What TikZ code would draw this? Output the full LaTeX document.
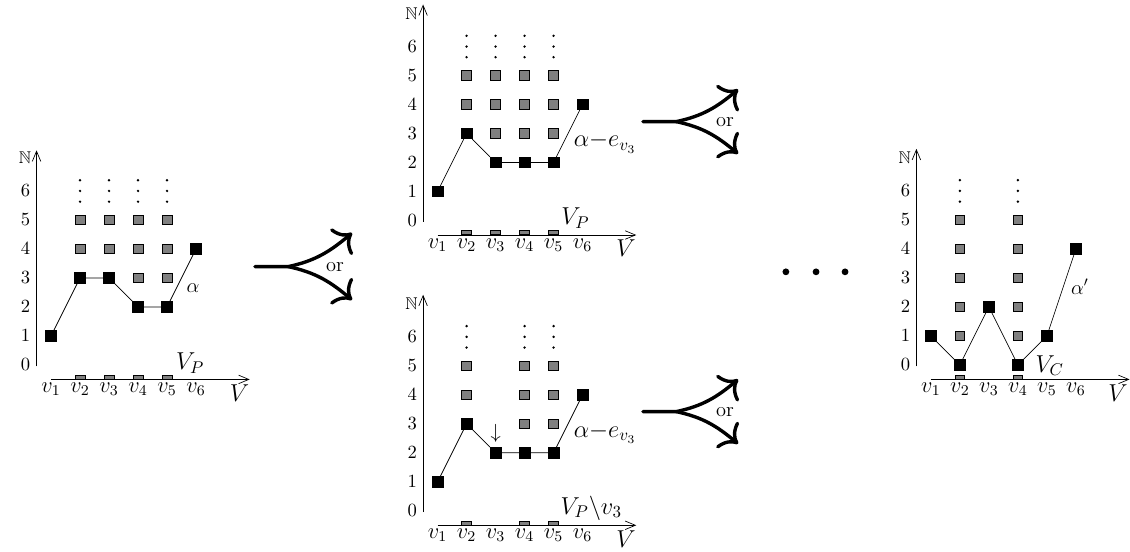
\documentclass[tikz,border=0pt]{standalone}
\usepackage{amsmath,amssymb}
\usetikzlibrary{arrows.meta}
\tikzset{
  blk/.style={draw,fill=black,minimum size=0.22cm,inner sep=0pt},
  gry/.style={draw,fill=gray,minimum size=0.2cm,inner sep=0pt},
  vpbar/.style={draw,fill=gray,minimum width=0.2cm,minimum height=2.3pt,inner sep=0pt,anchor=south},
  axis/.style={-{Straight Barb[length=6pt,width=5pt]}},
  lvl/.style={left,inner sep=3.5pt,font=\fontsize{11}{13}\selectfont},
  vlab/.style={font=\large,scale=1.1,inner sep=0pt},
  setlab/.style={font=\Large,inner sep=0pt},
  lab/.style={font=\large,inner sep=1pt},
  orarr/.style={line width=2pt,line cap=round,-{To[length=9pt,width=20pt]}},
}
\begin{document}
\begin{tikzpicture}[x=0.6cm,y=0.6cm]
\useasboundingbox (0,0) rectangle (38.966,19.034);
%% alpha
\begin{scope}[shift={(1.76,6.45)}]
\coordinate (Lo) at (-0.5,-0.05); \coordinate (Ly) at (-0.5,7.4);
\coordinate (Lx0) at (0,-0.5); \coordinate (Lx) at (6.85,-0.5);
\draw[axis] (Lo)--(Ly);
\draw[axis] (Lx0)--(Lx);
\node[left,inner sep=3pt] (LN) at (-0.5,7.15) {$\mathbb{N}$};
\foreach \k in {0,...,6} \node[lvl] (Ll\k) at (-0.5,\k) {$\k$};
\foreach \i in {1,...,6} \node[vlab] (Lv\i) at (\i-1,-0.84) {$v_{\i}$};
\node[setlab] (LV) at (6.5,-0.97) {$V$};
\node[setlab] (LVP) at (4.8,0.07) {$V_P$};
\foreach \i/\j in {1/4,1/5,2/4,2/5,3/3,3/4,3/5,4/3,4/4,4/5} \node[gry] (Lg\i\j) at (\i,\j) {};
\foreach \i in {1,...,4} {
  \node[vpbar] (Lb\i) at (\i,-0.5) {};
  \foreach \d in {5.63,6,6.37} \fill (\i,\d) circle (0.8pt);
}
\node[blk] (La1) at (0,1) {};
\node[blk] (La2) at (1,3) {};
\node[blk] (La3) at (2,3) {};
\node[blk] (La4) at (3,2) {};
\node[blk] (La5) at (4,2) {};
\node[blk] (La6) at (5,4) {};
\draw (La1)--(La2)--(La3)--(La4)--(La5)--(La6);
\node[lab] (Lal) at (4.9,2.66) {$\alpha$};
\end{scope}
%% alpha - e_v3, first case
\begin{scope}[shift={(15.09,11.43)}]
\coordinate (To) at (-0.5,-0.05); \coordinate (Ty) at (-0.5,7.45);
\coordinate (Tx0) at (0,-0.5); \coordinate (Tx) at (6.85,-0.5);
\draw[axis] (To)--(Ty);
\draw[axis] (Tx0)--(Tx);
\node[left,inner sep=3pt] (TN) at (-0.5,7.15) {$\mathbb{N}$};
\foreach \k in {0,...,6} \node[lvl] (Tl\k) at (-0.5,\k) {$\k$};
\foreach \i in {1,...,6} \node[vlab] (Tv\i) at (\i-1,-0.84) {$v_{\i}$};
\node[setlab] (TV) at (6.5,-0.97) {$V$};
\node[setlab] (TVP) at (4.75,0.09) {$V_P$};
\foreach \i/\j in {1/4,1/5,2/3,2/4,2/5,3/3,3/4,3/5,4/3,4/4,4/5} \node[gry] (Tg\i\j) at (\i,\j) {};
\foreach \i in {1,...,4} {
  \node[vpbar] (Tb\i) at (\i,-0.5) {};
  \foreach \d in {5.63,6,6.37} \fill (\i,\d) circle (0.8pt);
}
\node[blk] (Ta1) at (0,1) {};
\node[blk] (Ta2) at (1,3) {};
\node[blk] (Ta3) at (2,2) {};
\node[blk] (Ta4) at (3,2) {};
\node[blk] (Ta5) at (4,2) {};
\node[blk] (Ta6) at (5,4) {};
\draw (Ta1)--(Ta2)--(Ta3)--(Ta4)--(Ta5)--(Ta6);
\node[setlab] (Tal) at (5.77,2.68) {$\alpha{-}e_{v_3}$};
\end{scope}
%% alpha - e_v3, v3 dropped
\begin{scope}[shift={(15.09,1.42)}]
\coordinate (Bo) at (-0.5,-0.05); \coordinate (By) at (-0.5,7.45);
\coordinate (Bx0) at (0,-0.5); \coordinate (Bx) at (6.85,-0.5);
\draw[axis] (Bo)--(By);
\draw[axis] (Bx0)--(Bx);
\node[left,inner sep=3pt] (BN) at (-0.5,7.15) {$\mathbb{N}$};
\foreach \k in {0,...,6} \node[lvl] (Bl\k) at (-0.5,\k) {$\k$};
\foreach \i in {1,...,6} \node[vlab] (Bv\i) at (\i-1,-0.84) {$v_{\i}$};
\node[setlab] (BV) at (6.5,-0.97) {$V$};
\node[setlab] (BVP) at (5.3,0.09) {$V_P\backslash v_3$};
\foreach \i/\j in {1/4,1/5,3/3,3/4,3/5,4/3,4/4,4/5} \node[gry] (Bg\i\j) at (\i,\j) {};
\foreach \i in {1,3,4} {
  \node[vpbar] (Bb\i) at (\i,-0.5) {};
  \foreach \d in {5.63,6,6.37} \fill (\i,\d) circle (0.8pt);
}
\node[blk] (Ba1) at (0,1) {};
\node[blk] (Ba2) at (1,3) {};
\node[blk] (Ba3) at (2,2) {};
\node[blk] (Ba4) at (3,2) {};
\node[blk] (Ba5) at (4,2) {};
\node[blk] (Ba6) at (5,4) {};
\draw (Ba1)--(Ba2)--(Ba3)--(Ba4)--(Ba5)--(Ba6);
\node[lab] (Bdn) at (2,2.68) {$\downarrow$};
\node[setlab] (Bal) at (5.77,2.68) {$\alpha{-}e_{v_3}$};
\end{scope}
%% alpha'
\begin{scope}[shift={(32.1,6.45)}]
\coordinate (Ro) at (-0.5,-0.05); \coordinate (Ry) at (-0.5,7.45);
\coordinate (Rx0) at (0,-0.5); \coordinate (Rx) at (6.85,-0.5);
\draw[axis] (Ro)--(Ry);
\draw[axis] (Rx0)--(Rx);
\node[left,inner sep=3pt] (RN) at (-0.5,7.15) {$\mathbb{N}$};
\foreach \k in {0,...,6} \node[lvl] (Rl\k) at (-0.5,\k) {$\k$};
\foreach \i in {1,...,6} \node[vlab] (Rv\i) at (\i-1,-0.84) {$v_{\i}$};
\node[setlab] (RV) at (6.45,-0.97) {$V$};
\node[setlab] (RVC) at (4.1,-0.02) {$V_C$};
\foreach \i in {1,3} {
  \foreach \j in {1,...,5} \node[gry] (Rg\i\j) at (\i,\j) {};
  \node[vpbar] (Rb\i) at (\i,-0.5) {};
  \foreach \d in {5.63,6,6.37} \fill (\i,\d) circle (0.8pt);
}
\node[blk] (Ra1) at (0,1) {};
\node[blk] (Ra2) at (1,0) {};
\node[blk] (Ra3) at (2,2) {};
\node[blk] (Ra4) at (3,0) {};
\node[blk] (Ra5) at (4,1) {};
\node[blk] (Ra6) at (5,4) {};
\draw (Ra1)--(Ra2)--(Ra3)--(Ra4)--(Ra5)--(Ra6);
\node[lab] (Ral) at (5.14,2.7) {$\alpha'$};
\end{scope}
%% or-arrows
\coordinate (S1) at (8.79,9.84); \coordinate (J1) at (9.94,9.84);
\coordinate (U1) at (12.14,11.0); \coordinate (D1) at (12.14,8.69);
\draw[orarr] (S1)--(J1) to[out=12,in=-140] (U1);
\draw[orarr] (J1) to[out=-12,in=140] (D1);
\node[lab] (or1) at (11.55,9.84) {or};
\coordinate (S2) at (22.17,14.84); \coordinate (J2) at (23.32,14.84);
\coordinate (U2) at (25.45,15.95); \coordinate (D2) at (25.45,13.73);
\draw[orarr] (S2)--(J2) to[out=12,in=-140] (U2);
\draw[orarr] (J2) to[out=-12,in=140] (D2);
\node[lab] (or2) at (25.0,14.84) {or};
\coordinate (S3) at (22.17,4.84); \coordinate (J3) at (23.32,4.84);
\coordinate (U3) at (25.45,5.95); \coordinate (D3) at (25.45,3.73);
\draw[orarr] (S3)--(J3) to[out=12,in=-140] (U3);
\draw[orarr] (J3) to[out=-12,in=140] (D3);
\node[lab] (or3) at (25.0,4.84) {or};
%% dots
\fill (27.1,9.66) circle (2pt) (28.14,9.66) circle (2pt) (29.14,9.66) circle (2pt);
\end{tikzpicture}
\end{document}
